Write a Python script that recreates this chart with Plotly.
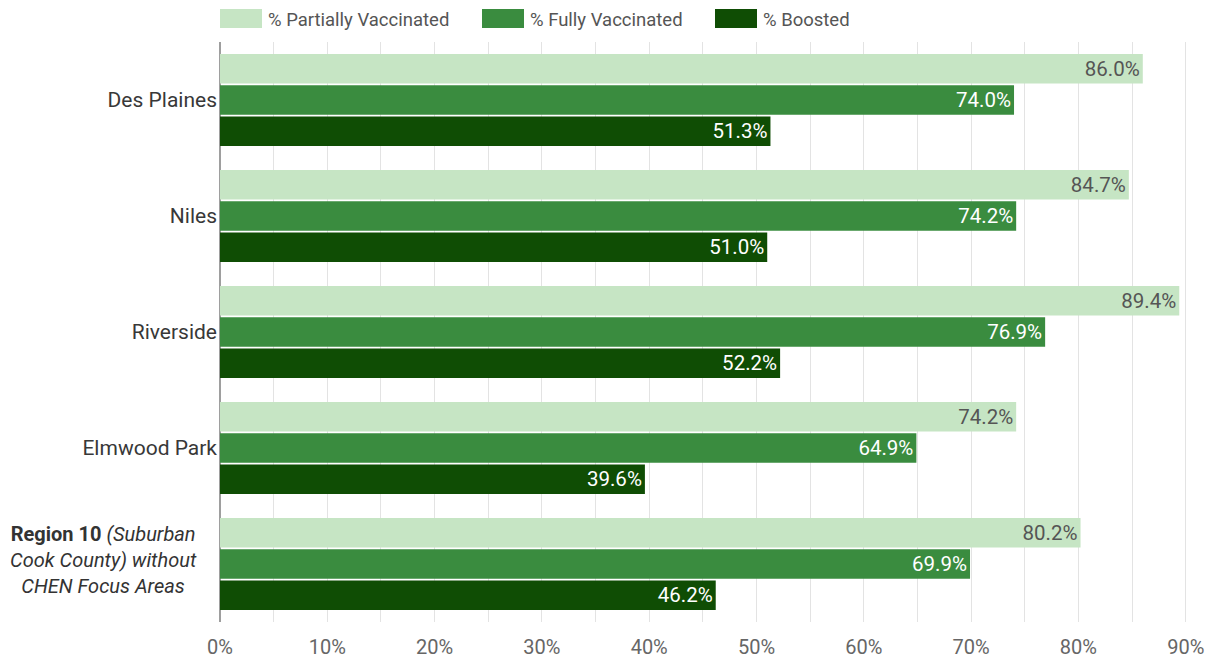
import plotly.graph_objects as go

# Vaccination coverage by community
areas = ["Des Plaines", "Niles", "Riverside", "Elmwood Park", "Region 10"]
area_labels = ["Des Plaines", "Niles", "Riverside", "Elmwood Park", ""]
region_label = "<b>Region 10</b> <i>(Suburban</i><br><i>Cook County) without</i><br><i>CHEN Focus Areas</i>"

partially = [86.0, 84.7, 89.4, 74.2, 80.2]
fully = [74.0, 74.2, 76.9, 64.9, 69.9]
boosted = [51.3, 51.0, 52.2, 39.6, 46.2]

series = [
    ("% Partially Vaccinated", partially, "#c6e5c4", "#555555"),
    ("% Fully Vaccinated", fully, "#3a8c3f", "#ffffff"),
    ("% Boosted", boosted, "#0f4d04", "#ffffff"),
]

x_ticks = list(range(0, 91, 10))

fig = go.Figure()
for name, vals, color, tcolor in series:
    fig.add_trace(go.Bar(
        y=areas, x=vals, name=name, orientation="h",
        marker=dict(color=color, line=dict(width=0)),
        text=[f"{v:.1f}%" for v in vals],
        textposition="inside", insidetextanchor="end",
        textfont=dict(family="Roboto", size=21, color=tcolor),
        showlegend=False,
    ))

# plot area in pixels: x 220..1190, y 42..622
PX0, PW, PY1, PH = 220, 970, 622, 580

# legend drawn as swatches + labels along the top
legend_x = [220, 482, 715]
shapes = []
annotations = []
for (name, _, color, _), lx in zip(series, legend_x):
    shapes.append(dict(type="rect", xref="paper", yref="paper",
                       x0=(lx - PX0) / PW, x1=(lx - PX0 + 42) / PW,
                       y0=(PY1 - 28) / PH, y1=(PY1 - 9) / PH,
                       fillcolor=color, line=dict(width=0)))
    annotations.append(dict(text=name, xref="paper", yref="paper",
                            x=(lx - PX0 + 46) / PW, y=(PY1 - 19.5) / PH,
                            xanchor="left", yanchor="middle", showarrow=False,
                            font=dict(family="Roboto", size=18.5, color="#555555")))

annotations.append(dict(text=region_label, xref="paper", yref="y",
                        x=(103 - PX0) / PW, y=areas[-1], xanchor="center",
                        yanchor="middle", align="center", showarrow=False,
                        yshift=4,
                        font=dict(family="Roboto", size=20, color="#333333")))

fig.update_layout(
    width=1217, height=659,
    margin=dict(l=220, r=27, t=42, b=37),
    paper_bgcolor="white", plot_bgcolor="white",
    barmode="group", bargap=0.19, bargroupgap=0.06,
    shapes=shapes, annotations=annotations,
    font=dict(family="Roboto"),
)
fig.update_xaxes(
    range=[0, 90.4], tickvals=x_ticks, ticktext=[f"{t}%" for t in x_ticks],
    automargin=False,
    showgrid=True, gridcolor="#e3e3e3", gridwidth=1,
    minor=dict(dtick=5, showgrid=True, gridcolor="#e3e3e3"),
    ticks="",
    zeroline=True, zerolinecolor="#9e9e9e", zerolinewidth=1.5,
    tickfont=dict(family="Roboto", size=20, color="#666666"),
    ticklabelstandoff=11,
)
fig.update_yaxes(
    autorange="reversed", tickvals=areas, ticktext=area_labels,
    automargin=False,
    tickfont=dict(family="Roboto", size=21, color="#383838"),
    ticks="", showgrid=False, ticklabelstandoff=2,
)

fig.write_html("out.html")
